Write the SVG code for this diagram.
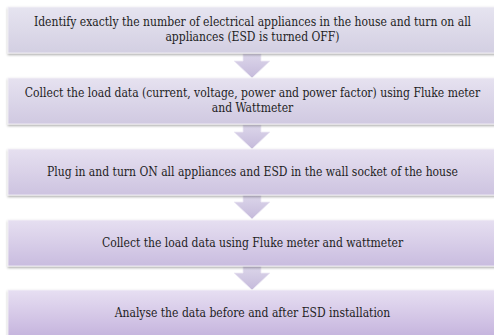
<svg xmlns="http://www.w3.org/2000/svg" width="494" height="335" viewBox="0 0 494 335">
<defs>
<linearGradient id="g1" x1="0" y1="0" x2="0" y2="1"><stop offset="0" stop-color="#e6e4f0"/><stop offset="1" stop-color="#d3cfe2"/></linearGradient>
<linearGradient id="g2" x1="0" y1="0" x2="0" y2="1"><stop offset="0" stop-color="#e6e2f0"/><stop offset="1" stop-color="#d0c9e1"/></linearGradient>
<linearGradient id="g3" x1="0" y1="0" x2="0" y2="1"><stop offset="0" stop-color="#e6e0f0"/><stop offset="1" stop-color="#cdc3e0"/></linearGradient>
<linearGradient id="g4" x1="0" y1="0" x2="0" y2="1"><stop offset="0" stop-color="#e6dff1"/><stop offset="1" stop-color="#c9bcdf"/></linearGradient>
<linearGradient id="g5" x1="0" y1="0" x2="0" y2="1"><stop offset="0" stop-color="#e7dff2"/><stop offset="1" stop-color="#c3b1dc"/></linearGradient>
<linearGradient id="ga" x1="0" y1="0" x2="0" y2="1"><stop offset="0" stop-color="#dcd6ea"/><stop offset="1" stop-color="#c5badb"/></linearGradient>
<filter id="sh" x="-5%" y="-10%" width="110%" height="130%"><feDropShadow dx="0" dy="1.5" stdDeviation="0.8" flood-color="#000" flood-opacity="0.35"/></filter>
<path id="arr" d="M-9,0 H9 V7 H18 L0,24 L-18,7 H-9 Z"/>
</defs>
<style>
.box{stroke:#f4f2f8;stroke-width:0.8;filter:url(#sh)}
.t{font-family:'DejaVu Serif Condensed','DejaVu Serif',serif;font-stretch:condensed;font-size:12px;fill:#1e1e1e;text-anchor:middle}
.a{fill:url(#ga);stroke:#eeeaf5;stroke-width:0.8}
</style>
<g id="connectors">
<use href="#arr" class="a" x="252" y="54"/>
<use href="#arr" class="a" x="252" y="125"/>
<use href="#arr" class="a" x="252" y="195"/>
<use href="#arr" class="a" x="252" y="266"/>
</g>
<g id="n1"><rect class="box" x="8" y="7" width="490" height="46" fill="url(#g1)"/>
<text class="t" x="252.5" y="26">Identify exactly the number of electrical  appliances in the house and turn on all</text>
<text class="t" x="252.5" y="41">appliances (ESD is turned OFF)</text></g>
<g id="n2"><rect class="box" x="8" y="78" width="490" height="46" fill="url(#g2)"/>
<text class="t" x="252.5" y="97">Collect the load data (current, voltage, power and power factor) using Fluke meter</text>
<text class="t" x="252.5" y="112">and Wattmeter</text></g>
<g id="n3"><rect class="box" x="8" y="149" width="490" height="46" fill="url(#g3)"/>
<text class="t" x="252.5" y="176">Plug in and turn ON all appliances and ESD in the wall  socket of the house</text></g>
<g id="n4"><rect class="box" x="8" y="220" width="490" height="46" fill="url(#g4)"/>
<text class="t" x="252.5" y="247">Collect the load data using Fluke meter and wattmeter</text></g>
<g id="n5"><rect class="box" x="8" y="290" width="490" height="50" fill="url(#g5)"/>
<text class="t" x="252.5" y="317">Analyse the data before and after ESD installation</text></g>
</svg>
